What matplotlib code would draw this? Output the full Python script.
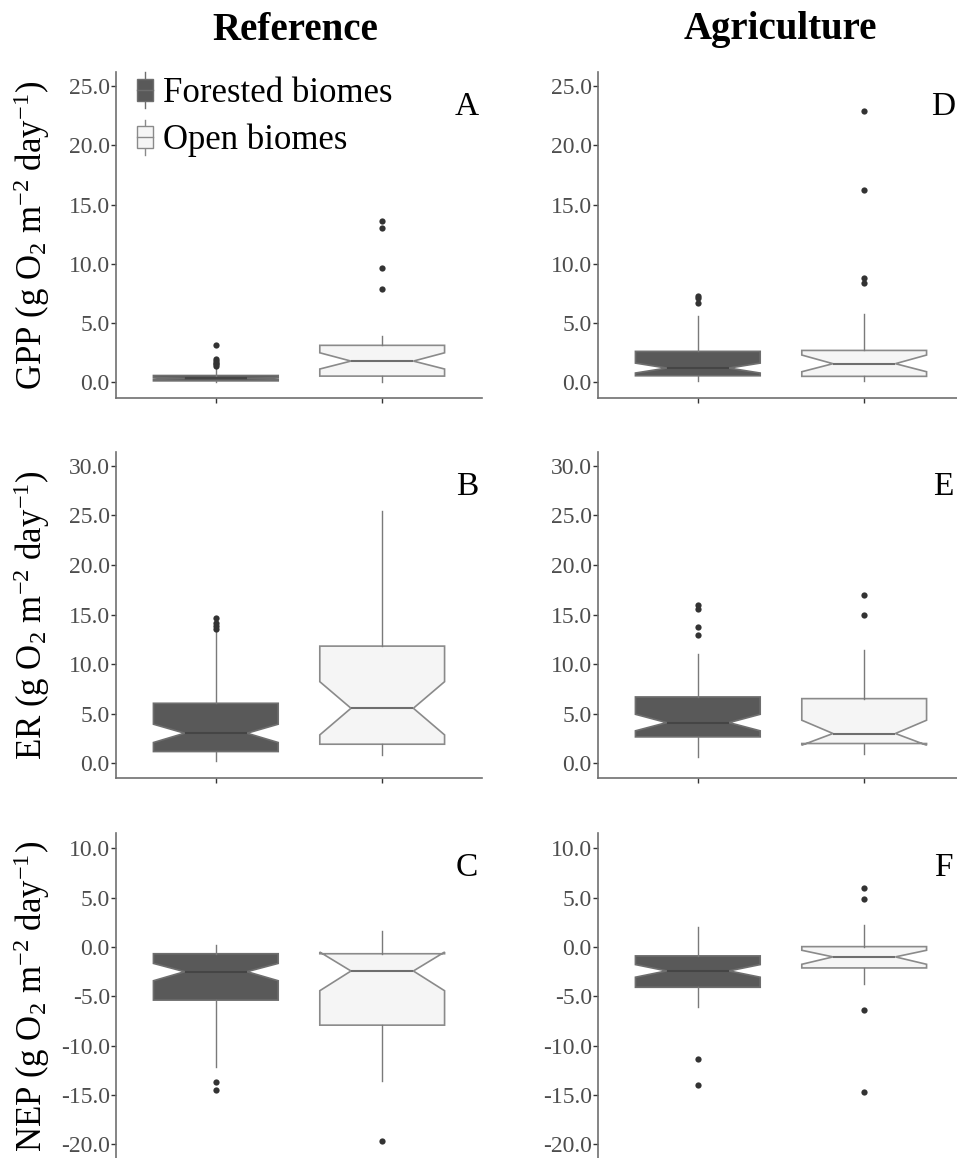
import matplotlib
matplotlib.use("Agg")
import matplotlib.pyplot as plt
from matplotlib.lines import Line2D
from matplotlib.patches import Patch, Rectangle
from matplotlib.legend_handler import HandlerBase

plt.rcParams['font.family'] = 'serif'
plt.rcParams['font.serif'] = ['Liberation Serif', 'DejaVu Serif']
plt.rcParams['mathtext.fontset'] = 'custom'
plt.rcParams['mathtext.rm'] = 'Liberation Serif'
plt.rcParams['mathtext.it'] = 'Liberation Serif:italic'
plt.rcParams['axes.unicode_minus'] = False

metrics = ['GPP', 'ER', 'NEP']
landuse = ['Reference', 'Agriculture']
groups = ['Forested biomes', 'Open biomes']
panel_tags = [['A', 'D'], ['B', 'E'], ['C', 'F']]

# order: GPP-Ref (for, open), GPP-Ag (for, open), ER-Ref, ER-Ag, NEP-Ref, NEP-Ag
medians  = [0.30, 1.77, 1.18, 1.55,  3.02, 5.54, 4.09, 2.99,  -2.51, -2.44, -2.43, -1.01]
q1       = [0.10, 0.50, 0.53, 0.48,  1.17, 1.91, 2.65, 1.98,  -5.39, -7.93, -4.09, -2.13]
q3       = [0.55, 3.10, 2.59, 2.67,  6.04, 11.81, 6.68, 6.51, -0.69, -0.69, -0.91, 0.03]
notch_lo = [0.22, 1.10, 0.76, 0.87,  2.08, 2.85, 3.26, 1.81,  -3.43, -4.44, -3.07, -1.76]
notch_hi = [0.38, 2.47, 1.60, 2.28,  3.93, 8.22, 4.93, 4.33,  -1.67, -0.52, -1.79, -0.34]
whisk_lo = [0.00, 0.00, 0.06, 0.06,  0.23, 0.80, 0.57, 0.90,  -12.17, -13.60, -6.05, -3.78]
whisk_hi = [1.20, 3.90, 5.62, 5.74,  13.30, 25.47, 10.97, 11.41, 0.23, 1.61, 2.06, 2.23]
outliers = [
    [1.35, 1.5, 1.65, 1.8, 1.95, 3.1], [7.9, 9.6, 13.0, 13.6],
    [6.66, 7.09, 7.28], [8.4, 8.77, 16.2, 22.9],
    [13.56, 13.8, 14.16, 14.66], [],
    [12.89, 13.76, 15.57, 16.0], [15.0, 17.0],
    [-13.67, -14.5], [-19.66],
    [-11.35, -13.99], [-14.66, -6.39, 4.86, 5.95],
]

ylims = [(-1.35, 26.2), (-1.5, 31.4), (-21.5, 11.55)]
yticks = [range(0, 26, 5), range(0, 31, 5), range(-20, 11, 5)]

fills = ['#595959', '#f5f5f5']
edges = ['#6e6e6e', '#8a8a8a']
med_colors = ['#454545', '#6e6e6e']
axis_col = '#707070'


class BoxHandler(HandlerBase):
    def create_artists(self, legend, orig_handle, xdescent, ydescent,
                       width, height, fontsize, trans):
        x0, y0 = -xdescent, -ydescent
        fc = orig_handle.get_facecolor()
        ec = orig_handle.get_edgecolor()
        wl = Line2D([x0 + width / 2] * 2, [y0, y0 + height], color=ec, lw=1, transform=trans)
        box = Rectangle((x0, y0 + 0.19 * height), width, 0.62 * height,
                        facecolor=fc, edgecolor=ec, lw=1, transform=trans)
        md = Line2D([x0, x0 + width], [y0 + height / 2] * 2, color=ec, lw=1, transform=trans)
        return [wl, box, md]


fig = plt.figure(figsize=(9.57, 11.58), dpi=100)
W, H = 957, 1158
col_left = [116, 598]
row_top = [72, 452, 833]
ax_w, ax_h = 366, 326
tag_x = [467, 943]

for r, m in enumerate(metrics):
    for c, lu in enumerate(landuse):
        ax = fig.add_axes([col_left[c] / W, 1 - (row_top[r] + ax_h) / H, ax_w / W, ax_h / H])
        stats = []
        for g in range(2):
            i = r * 4 + c * 2 + g
            stats.append(dict(med=medians[i], q1=q1[i], q3=q3[i], cilo=notch_lo[i],
                              cihi=notch_hi[i], whislo=whisk_lo[i], whishi=whisk_hi[i],
                              fliers=outliers[i]))
        bp = ax.bxp(stats, positions=[1, 2], widths=0.75, shownotches=True,
                    showcaps=False, patch_artist=True,
                    flierprops=dict(marker='o', markerfacecolor='#333333',
                                    markeredgecolor='none', markersize=4.5))
        for g in range(2):
            bp['boxes'][g].set_facecolor(fills[g])
            bp['boxes'][g].set_edgecolor(edges[g])
            bp['boxes'][g].set_linewidth(1.2)
            bp['medians'][g].set_color(med_colors[g])
            bp['medians'][g].set_linewidth(1.5)
            for wk in bp['whiskers'][2 * g:2 * g + 2]:
                wk.set_color('#7a7a7a')
                wk.set_linewidth(1)

        ax.set_xlim(0.4, 2.6)
        ax.set_ylim(*ylims[r])
        ax.set_yticks(list(yticks[r]))
        ax.set_yticklabels(['%.1f' % v for v in yticks[r]])
        ax.set_xticks([1, 2])
        ax.set_xticklabels([])
        for s in ['top', 'right']:
            ax.spines[s].set_visible(False)
        for s in ['left', 'bottom']:
            ax.spines[s].set_color(axis_col)
            ax.spines[s].set_linewidth(1.2)
        ax.tick_params(colors='#333333', labelcolor='#4d4d4d', labelsize=17,
                       length=3.5, width=1, pad=1)
        fig.text(tag_x[c] / W, 1 - (row_top[r] + 35) / H, panel_tags[r][c],
                 ha='center', va='center', fontsize=24)

        if c == 0:
            fig.text(32 / W, 1 - (row_top[r] + ax_h / 2) / H,
                     m + r' (g O$_2$ m$^{-2}$ day$^{-1}$)',
                     rotation=90, ha='center', va='center', fontsize=25)

        if r == 0 and c == 0:
            handles = [Patch(facecolor=fills[k], edgecolor=edges[k]) for k in range(2)]
            ax.legend(handles, groups, handler_map={Patch: BoxHandler()},
                      loc='upper left', bbox_to_anchor=(0.0575, 1.0), frameon=False,
                      fontsize=25, borderpad=0, handlelength=0.46, handleheight=1.2,
                      handletextpad=0.3, labelspacing=0.29, borderaxespad=0)

fig.text(295 / W, 1 - 30 / H, 'Reference', ha='center', va='center',
         fontsize=28, fontweight='bold')
fig.text(780 / W, 1 - 30 / H, 'Agriculture', ha='center', va='center',
         fontsize=28, fontweight='bold')

fig.savefig('out.png', dpi=100)
